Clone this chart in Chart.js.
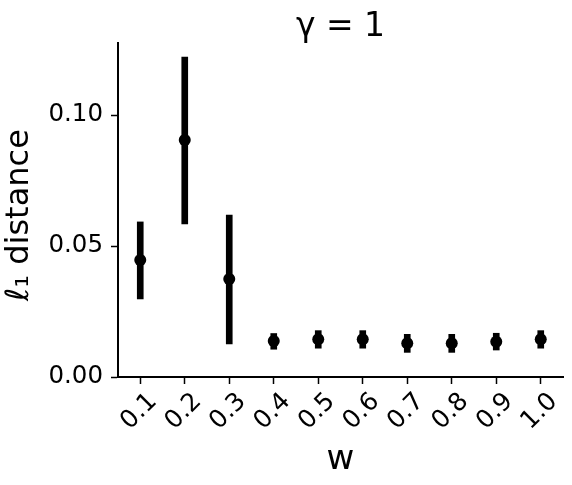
<!DOCTYPE html>
<html>
<head>
<meta charset="utf-8">
<script src="https://cdn.jsdelivr.net/npm/chart.js@4/dist/chart.umd.min.js"></script>
<style>
  html, body { margin: 0; padding: 0; background: #fff; }
  #wrap { width: 572px; height: 485px; }
</style>
</head>
<body>
<div id="wrap"><canvas id="graf" width="572" height="485"></canvas></div>
<script>
// ---------- dados ----------
const wLabels = ["0.1", "0.2", "0.3", "0.4", "0.5", "0.6", "0.7", "0.8", "0.9", "1.0"];
const meanDist = [0.0447, 0.0905, 0.0374, 0.0137, 0.0144, 0.0144, 0.0129, 0.0129, 0.0135, 0.0144];
const lowDist = [0.0298, 0.0584, 0.0126, 0.0106, 0.0110, 0.0110, 0.0094, 0.0094, 0.0103, 0.0110];
const highDist = [0.0592, 0.1221, 0.0618, 0.0166, 0.0177, 0.0177, 0.0163, 0.0163, 0.0167, 0.0177];
const yTicks = [0, 0.05, 0.10];

const FONT = "'DejaVu Sans', sans-serif";

// ---------- gráfico ----------
const canvas = document.getElementById("graf");
new Chart(canvas, {
  type: "bar",
  data: {
    labels: wLabels,
    datasets: [
      {
        type: "line",
        data: meanDist,
        showLine: false,
        pointRadius: 6,
        pointBackgroundColor: "#000",
        pointBorderWidth: 0,
        borderColor: "#000",
        order: 0,
      },
      {
        type: "bar",
        data: lowDist.map((l, i) => [l, highDist[i]]),
        backgroundColor: "#000",
        borderWidth: 0,
        barThickness: 6,
        grouped: false,
        order: 1,
      },
    ],
  },
  options: {
    responsive: false,
    animation: false,
    layout: { padding: { left: 0, right: 9, top: 0, bottom: 0 } },
    plugins: {
      legend: { display: false },
      tooltip: { enabled: false },
      title: {
        display: true,
        text: "γ = 1",
        color: "#000",
        fullSize: false,
        font: { family: FONT, size: 33, weight: "normal", lineHeight: 0.9 },
        padding: { top: 12.6, bottom: 0.7 },
      },
    },
    scales: {
      x: {
        type: "category",
        offset: true,
        grid: {
          offset: false,
          drawOnChartArea: false,
          drawTicks: true,
          tickLength: 7,
          tickColor: "#000",
          tickWidth: 1.5,
        },
        border: { display: true, color: "#000", width: 2 },
        ticks: {
          color: "#000",
          font: { family: FONT, size: 25 },
          autoSkip: false,
          minRotation: 45,
          maxRotation: 45,
          labelOffset: 13,
          padding: 3,
        },
        title: {
          display: true,
          text: "w",
          color: "#000",
          font: { family: FONT, size: 34, lineHeight: 1.2 },
          padding: { top: 0, bottom: 4 },
        },
        afterFit: (scale) => {
          scale.height = 108;
        },
      },
      y: {
        min: 0,
        max: 0.1275,
        grid: {
          drawOnChartArea: false,
          drawTicks: true,
          tickLength: 7,
          tickColor: "#000",
          tickWidth: 1.5,
        },
        border: { display: true, color: "#000", width: 2 },
        ticks: {
          color: "#000",
          font: { family: FONT, size: 24.5 },
          padding: 8,
          callback: (v) => v.toFixed(2),
        },
        title: {
          display: true,
          text: "ℓ₁ distance\u00a0",
          color: "#000",
          font: { family: FONT, size: 32, lineHeight: 1.2 },
          padding: { top: 0.5, bottom: 0 },
        },
        afterBuildTicks: (scale) => {
          scale.ticks = yTicks.map((v) => ({ value: v }));
        },
        afterFit: (scale) => {
          scale.width = 118;
        },
      },
    },
  },
});
</script>
</body>
</html>
